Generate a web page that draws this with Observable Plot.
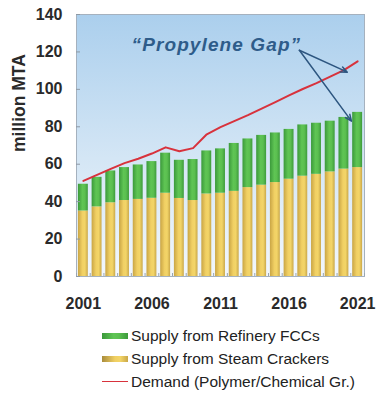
<!DOCTYPE html>
<html>
<head>
<meta charset="utf-8">
<script src="https://cdn.jsdelivr.net/npm/d3@7"></script>
<script src="https://cdn.jsdelivr.net/npm/@observablehq/plot@0.6"></script>
<style>
  body { margin: 0; background: #fff; font-family: "Liberation Sans", Arial, sans-serif; }
  #legend { margin: 6px 0 0 102px; color: #222; font-size: 15.5px; }
  #legend .row { height: 23px; display: flex; align-items: center; }
  #legend .sw { width: 26px; height: 6px; margin-right: 3px; flex: none; }
  #legend .ln { width: 26px; height: 1.5px; margin-right: 3px; background: #d8323c; flex: none; }
  .gap-label text { letter-spacing: 1.1px; }
</style>
</head>
<body>
<div id="chart"></div>
<div id="legend">
  <div class="row"><span class="sw" style="background: linear-gradient(to right, #3a983a, #5fc554 45%, #5bbf50 65%, #3c9a3b)"></span>Supply from Refinery FCCs</div>
  <div class="row"><span class="sw" style="background: linear-gradient(to right, #a98c3c, #f0cf62 50%, #f3d568 70%, #c9a748)"></span>Supply from Steam Crackers</div>
  <div class="row"><span class="ln"></span>Demand (Polymer/Chemical Gr.)</div>
</div>
<script>
// Propylene supply and demand, million metric tons per year
const years = d3.range(2001, 2022);
const steamCrackers = [35.0, 37.2, 39.4, 40.6, 41.2, 41.8, 44.5, 41.7, 40.6, 44.1, 44.5,
                       45.5, 47.5, 48.8, 50.2, 52.0, 53.6, 54.6, 55.9, 57.4, 58.2];
const refineryFCCs = [14.3, 15.8, 17.0, 17.6, 18.4, 19.6, 21.4, 20.4, 21.9, 23.0, 23.7,
                      25.6, 26.0, 26.6, 26.5, 26.6, 27.4, 27.3, 27.1, 27.6, 29.5];
const demand = [51.1, 54.3, 57.5, 60.6, 62.9, 65.7, 69.0, 66.9, 68.6, 76.0, 79.8,
                83.0, 86.2, 89.7, 93.2, 96.8, 100.2, 103.3, 106.8, 110.3, 115.0];
const yTicks = [0, 20, 40, 60, 80, 100, 120, 140];
const xTicks = [2001, 2006, 2011, 2016, 2021];
const yLabel = "million MTA";

// "Propylene Gap" callout: label position and the two arrow targets (data units)
const gapLabel = {x: 2010.7, y: 123.6, text: "\u201CPropylene Gap\u201D"};
const gapArrows = [
  {x1: 2016.75, y1: 120.9, x2: 2020.25, y2: 109.2},
  {x1: 2016.75, y1: 120.9, x2: 2020.55, y2: 83.0}
];

const rows = years.map((year, i) => ({
  year,
  steam: steamCrackers[i],
  total: steamCrackers[i] + refineryFCCs[i],
  demand: demand[i]
}));

const inset = 1.9;

const svg = Plot.plot({
  width: 376,
  height: 318,
  marginTop: 14,
  marginBottom: 42,
  marginLeft: 76,
  marginRight: 12,
  style: {fontFamily: "'Liberation Sans', Arial, sans-serif", fontWeight: "bold", color: "#2a2a2a", background: "transparent"},
  x: {domain: [2000.5, 2021.5]},
  y: {domain: [0, 140]},
  marks: [
    Plot.frame({fill: "url(#bgGrad)", stroke: null}),
    Plot.rectY(rows, {x1: d => d.year - 0.5, x2: d => d.year + 0.5, y1: 0, y2: "steam",
                      fill: "url(#gYellow)", insetLeft: inset, insetRight: inset}),
    Plot.rectY(rows, {x1: d => d.year - 0.5, x2: d => d.year + 0.5, y1: "steam", y2: "total",
                      fill: "url(#gGreen)", insetLeft: inset, insetRight: inset}),
    Plot.lineY(rows, {x: "year", y: "demand", stroke: "#d8323c", strokeWidth: 2}),
    Plot.arrow(gapArrows, {x1: "x1", y1: "y1", x2: "x2", y2: "y2", stroke: "#2d5680",
                           strokeWidth: 1.5, headLength: 7, headAngle: 45}),
    Plot.text([gapLabel], {x: "x", y: "y", text: "text", fontSize: 19, fontStyle: "italic",
                           fontWeight: "bold", fill: "#2e5c8a", className: "gap-label"}),
    Plot.frame({stroke: "#a5b1be", strokeWidth: 1}),
    Plot.axisY(yTicks, {tickSize: -4, tickPadding: 18, stroke: "#8f9aa6", fontSize: 16,
                        fontWeight: "bold", label: null}),
    Plot.text([yLabel], {frameAnchor: "left", rotate: -90, dx: -57, dy: 6.5, fontSize: 17.5,
                         fontWeight: "bold", fill: "#2a2a2a"}),
    Plot.axisX(d3.range(2000.5, 2022, 1), {tickSize: -3, stroke: "#9aa5b1", text: null, label: null}),
    Plot.axisX(xTicks, {tickSize: 0, tickPadding: 21, fontSize: 16, fontWeight: "bold",
                        tickFormat: d => String(d), label: null})
  ]
});

d3.select(svg).insert("defs", ":first-child").html(`
  <linearGradient id="bgGrad" x1="0" y1="0" x2="0" y2="1">
    <stop offset="0" stop-color="#abcfed"/>
    <stop offset="0.55" stop-color="#d4e6f5"/>
    <stop offset="1" stop-color="#f2f7fc"/>
  </linearGradient>
  <linearGradient id="gGreen" x1="0" y1="0" x2="1" y2="0">
    <stop offset="0" stop-color="#3b993b"/>
    <stop offset="0.45" stop-color="#5fc554"/>
    <stop offset="0.7" stop-color="#5bbf50"/>
    <stop offset="1" stop-color="#3d9b3c"/>
  </linearGradient>
  <linearGradient id="gYellow" x1="0" y1="0" x2="1" y2="0">
    <stop offset="0" stop-color="#c9a545"/>
    <stop offset="0.45" stop-color="#f1d064"/>
    <stop offset="0.7" stop-color="#f3d568"/>
    <stop offset="1" stop-color="#caa84a"/>
  </linearGradient>
`);

document.getElementById("chart").append(svg);
</script>
</body>
</html>
